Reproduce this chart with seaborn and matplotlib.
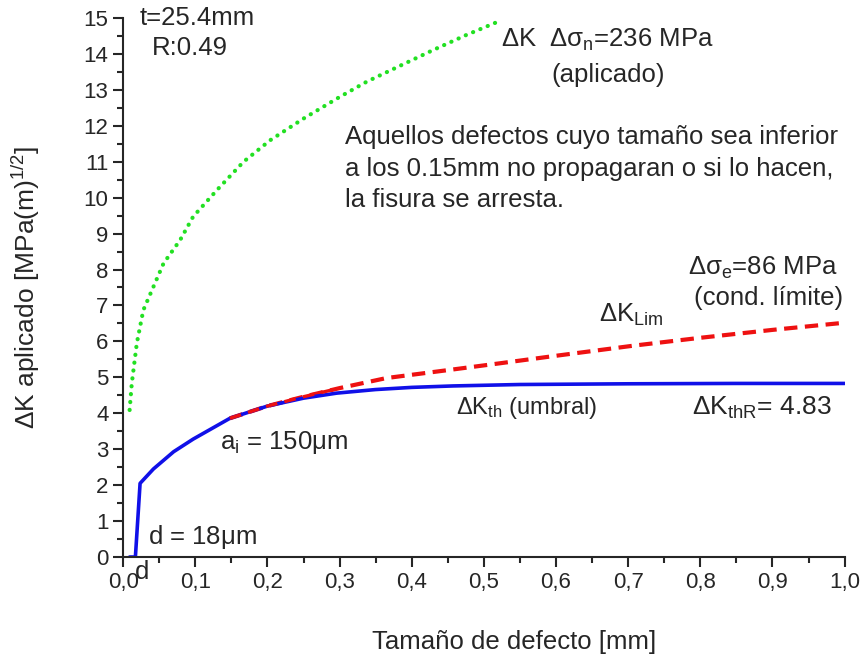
import pandas as pd
import matplotlib
matplotlib.use("Agg")
import matplotlib.pyplot as plt
import numpy as np
import seaborn as sns

# curves (a in mm, dK in MPa m^1/2)
green_a = [0.009, 0.012, 0.019, 0.028, 0.042, 0.056, 0.079, 0.097, 0.130, 0.167,
           0.204, 0.250, 0.300, 0.338, 0.385, 0.430, 0.475, 0.520]
green_k = [4.09, 4.83, 5.95, 6.87, 7.52, 8.17, 8.82, 9.47, 10.21, 11.00,
           11.60, 12.20, 12.80, 13.23, 13.68, 14.11, 14.52, 14.90]

blue_a = [0.009, 0.017, 0.0235, 0.042, 0.070, 0.097, 0.148, 0.200, 0.250, 0.296,
          0.350, 0.400, 0.457, 0.550, 0.700, 0.850, 1.000]
blue_k = [0.0, 0.0, 2.05, 2.45, 2.93, 3.28, 3.86, 4.20, 4.42, 4.56,
          4.66, 4.72, 4.76, 4.80, 4.82, 4.83, 4.83]

red_a = [0.148, 0.200, 0.250, 0.300, 0.365, 0.450, 0.522, 0.600, 0.707, 0.800, 0.900, 1.000]
red_k = [3.86, 4.20, 4.46, 4.70, 4.98, 5.20, 5.39, 5.60, 5.88, 6.10, 6.32, 6.52]

sns.set_style("ticks")
plt.rcParams['font.family'] = ['Liberation Sans', 'DejaVu Sans']
plt.rcParams['mathtext.fontset'] = 'custom'
plt.rcParams['mathtext.rm'] = 'Liberation Sans'
plt.rcParams['mathtext.it'] = 'Liberation Sans'
plt.rcParams['mathtext.sf'] = 'Liberation Sans'

fig = plt.figure(figsize=(8.61, 6.55), dpi=100)
ax = fig.add_axes([0.143, 0.1496, 0.838, 0.823])

green = pd.DataFrame({'a': green_a, 'k': green_k})
blue = pd.DataFrame({'a': blue_a, 'k': blue_k})
red = pd.DataFrame({'a': red_a, 'k': red_k})

sns.lineplot(data=green, x='a', y='k', ax=ax, sort=False, color='#22e022',
             linewidth=3.0, linestyle=(0, (0.05, 1.85)), dash_capstyle='round')
sns.lineplot(data=red, x='a', y='k', ax=ax, sort=False, color='#ee1111',
             linewidth=3.0, linestyle=(0, (3.2, 1.8)))
sns.lineplot(data=blue, x='a', y='k', ax=ax, sort=False, color='#1010e8',
             linewidth=2.6)
# red drawn on top where it overlaps the blue curve
sns.lineplot(data=red[red['a'] <= 0.3], x='a', y='k', ax=ax, sort=False, color='#ee1111',
             linewidth=2.4, linestyle=(0, (3.5, 2.2)))

ax.set_xlim(0, 1.0)
ax.set_ylim(0, 15)
ax.set_xticks(np.arange(0, 1.01, 0.1))
ax.set_xticklabels([f"{v:.1f}".replace('.', ',') for v in np.arange(0, 1.01, 0.1)])
ax.set_xticks(np.arange(0.05, 1.0, 0.1), minor=True)
ax.set_yticks(range(0, 16))
ax.set_yticks(np.arange(0.5, 15, 1.0), minor=True)
ax.tick_params(axis='both', which='major', length=7, width=1.5, labelsize=16, direction='out')
ax.tick_params(axis='both', which='minor', length=4, width=1.5, direction='out')
for s in ['left', 'bottom']:
    ax.spines[s].set_linewidth(1.5)
sns.despine(ax=ax)

ax.set_xlabel('Tamaño de defecto [mm]', fontsize=18.5, ha='left')
ax.xaxis.set_label_coords(0.345, -0.135)
ax.set_ylabel(r'$\Delta$K aplicado [MPa(m)$^{1/2}$]', fontsize=19)
ax.yaxis.set_label_coords(-0.113, 0.5)

fs = 18.5
ax.text(0.023, 15.0, 't=25.4mm', fontsize=fs, ha='left', va='center')
ax.text(0.040, 14.17, 'R:0.49', fontsize=fs, ha='left', va='center')
ax.text(0.524, 14.4, r'$\Delta$K  $\Delta\sigma_{\rm n}$=236 MPa', fontsize=fs, ha='left', va='center')
ax.text(0.672, 13.4, '(aplicado)', fontsize=fs, ha='center', va='center')
ax.text(0.307, 10.8, 'Aquellos defectos cuyo tamaño sea inferior\n'
        'a los 0.15mm no propagaran o si lo hacen,\nla fisura se arresta.',
        fontsize=fs, ha='left', va='center', linespacing=1.4)
ax.text(0.990, 8.05, r'$\Delta\sigma_{\rm e}$=86 MPa', fontsize=fs, ha='right', va='center')
ax.text(0.998, 7.2, '(cond. límite)', fontsize=fs, ha='right', va='center')
ax.text(0.66, 6.75, r'$\Delta$K$_{\rm Lim}$', fontsize=fs, ha='left', va='center')
ax.text(0.462, 4.15, r'$\Delta$K$_{\rm th}$ (umbral)', fontsize=17, ha='left', va='center')
ax.text(0.885, 4.15, r'$\Delta$K$_{\rm thR}$= 4.83', fontsize=19, ha='center', va='center')
ax.text(0.134, 3.2, r'a$_{\rm i}$ = 150$\mu$m', fontsize=fs, ha='left', va='center')
ax.text(0.034, 0.55, r'd = 18$\mu$m', fontsize=fs, ha='left', va='center')
ax.text(0.026, -0.42, 'd', fontsize=fs, ha='center', va='center', clip_on=False)

fig.savefig('out.png', dpi=100)
